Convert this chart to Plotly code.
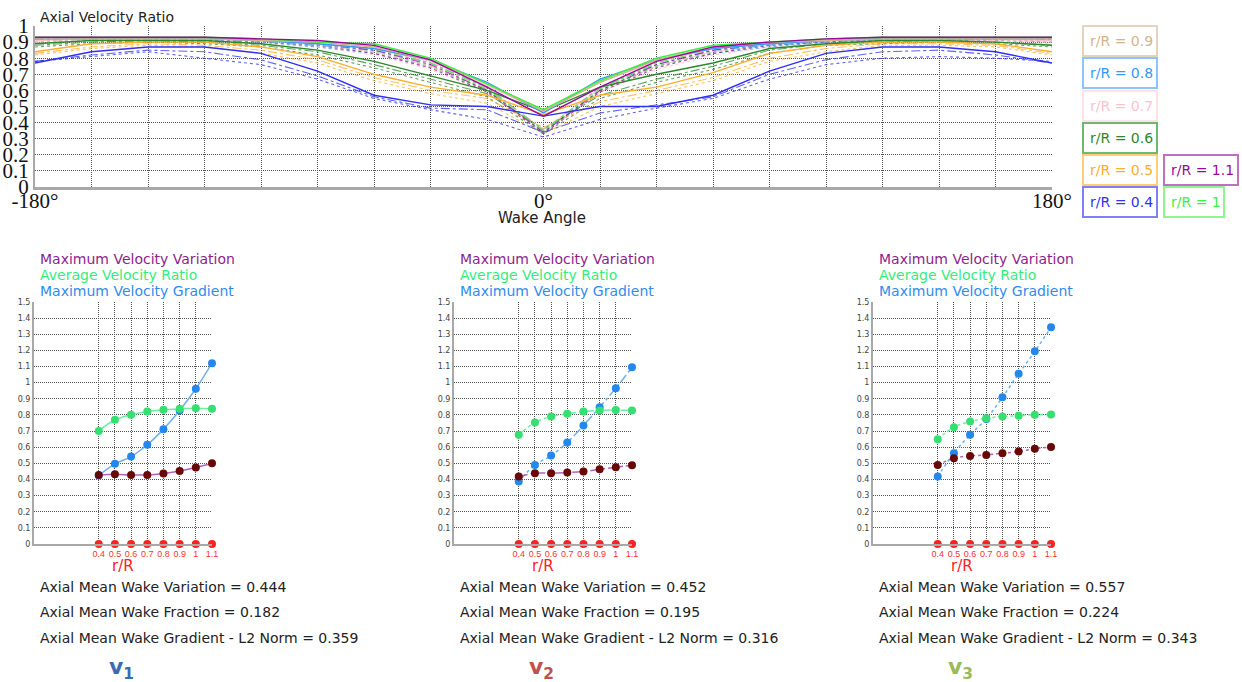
import plotly.graph_objects as go

W, H = 1242, 682

# ---------------- data: top chart (axial velocity ratio vs wake angle) ----------------
angles = [-180, -160, -140, -120, -100, -80, -60, -40, -20, 0, 20, 40, 60, 80, 100, 120, 140, 160, 180]
radii_labels = ["0.4", "0.5", "0.6", "0.7", "0.8", "0.9", "1", "1.1"]

# v1 (solid)
r04_v1 = [0.77, 0.84, 0.87, 0.87, 0.83, 0.72, 0.57, 0.51, 0.50, 0.44, 0.50, 0.50, 0.57, 0.72, 0.83, 0.87, 0.87, 0.84, 0.77]
r05_v1 = [0.84, 0.89, 0.90, 0.90, 0.87, 0.81, 0.70, 0.62, 0.57, 0.45, 0.57, 0.62, 0.71, 0.83, 0.88, 0.90, 0.90, 0.89, 0.84]
r06_v1 = [0.89, 0.91, 0.91, 0.91, 0.89, 0.85, 0.78, 0.69, 0.60, 0.47, 0.62, 0.70, 0.77, 0.86, 0.89, 0.91, 0.91, 0.90, 0.88]
r07_v1 = [0.91, 0.92, 0.92, 0.92, 0.91, 0.89, 0.86, 0.78, 0.63, 0.47, 0.65, 0.78, 0.86, 0.89, 0.91, 0.92, 0.92, 0.92, 0.91]
r08_v1 = [0.92, 0.92, 0.92, 0.92, 0.91, 0.89, 0.86, 0.79, 0.65, 0.46, 0.67, 0.79, 0.86, 0.89, 0.91, 0.92, 0.92, 0.92, 0.92]
r09_v1 = [0.92, 0.92, 0.92, 0.92, 0.91, 0.90, 0.87, 0.79, 0.64, 0.47, 0.65, 0.79, 0.87, 0.90, 0.91, 0.92, 0.92, 0.92, 0.92]
r10_v1 = [0.93, 0.93, 0.93, 0.93, 0.92, 0.90, 0.89, 0.80, 0.64, 0.48, 0.66, 0.80, 0.88, 0.90, 0.92, 0.93, 0.93, 0.93, 0.93]
r11_v1 = [0.93, 0.93, 0.93, 0.93, 0.92, 0.91, 0.88, 0.79, 0.62, 0.44, 0.62, 0.78, 0.87, 0.90, 0.92, 0.93, 0.93, 0.93, 0.93]

# v2 (dash-dot)
r04_v2 = [0.78, 0.82, 0.85, 0.84, 0.79, 0.69, 0.56, 0.49, 0.48, 0.34, 0.46, 0.51, 0.56, 0.70, 0.79, 0.84, 0.85, 0.82, 0.77]
r05_v2 = [0.83, 0.87, 0.89, 0.88, 0.85, 0.79, 0.68, 0.60, 0.55, 0.37, 0.53, 0.60, 0.68, 0.80, 0.86, 0.89, 0.89, 0.88, 0.83]
r06_v2 = [0.88, 0.90, 0.91, 0.90, 0.88, 0.84, 0.76, 0.67, 0.58, 0.36, 0.57, 0.67, 0.75, 0.85, 0.89, 0.90, 0.91, 0.90, 0.88]
r07_v2 = [0.90, 0.91, 0.91, 0.91, 0.90, 0.88, 0.84, 0.75, 0.61, 0.36, 0.61, 0.75, 0.84, 0.88, 0.90, 0.91, 0.91, 0.91, 0.90]
r08_v2 = [0.91, 0.92, 0.92, 0.91, 0.90, 0.88, 0.85, 0.77, 0.62, 0.35, 0.62, 0.76, 0.85, 0.88, 0.90, 0.91, 0.92, 0.92, 0.91]
r09_v2 = [0.91, 0.92, 0.92, 0.92, 0.91, 0.89, 0.86, 0.77, 0.62, 0.35, 0.62, 0.77, 0.86, 0.89, 0.91, 0.92, 0.92, 0.92, 0.91]
r10_v2 = [0.92, 0.92, 0.92, 0.92, 0.91, 0.89, 0.86, 0.77, 0.61, 0.35, 0.61, 0.77, 0.86, 0.89, 0.91, 0.92, 0.92, 0.92, 0.92]
r11_v2 = [0.92, 0.92, 0.92, 0.92, 0.91, 0.89, 0.85, 0.76, 0.60, 0.34, 0.60, 0.76, 0.85, 0.89, 0.91, 0.92, 0.92, 0.92, 0.92]

# v3 (dotted)
r04_v3 = [0.78, 0.81, 0.84, 0.80, 0.76, 0.67, 0.55, 0.48, 0.42, 0.31, 0.42, 0.49, 0.55, 0.67, 0.76, 0.80, 0.81, 0.80, 0.78]
r05_v3 = [0.82, 0.86, 0.88, 0.87, 0.83, 0.77, 0.66, 0.58, 0.52, 0.33, 0.50, 0.58, 0.66, 0.78, 0.84, 0.88, 0.88, 0.87, 0.82]
r06_v3 = [0.87, 0.89, 0.90, 0.89, 0.87, 0.82, 0.74, 0.65, 0.56, 0.33, 0.55, 0.65, 0.73, 0.83, 0.88, 0.89, 0.90, 0.89, 0.87]
r07_v3 = [0.89, 0.90, 0.91, 0.90, 0.89, 0.87, 0.82, 0.73, 0.59, 0.34, 0.59, 0.73, 0.82, 0.87, 0.89, 0.90, 0.91, 0.90, 0.89]
r08_v3 = [0.90, 0.91, 0.91, 0.91, 0.90, 0.87, 0.83, 0.75, 0.60, 0.34, 0.60, 0.75, 0.83, 0.87, 0.90, 0.91, 0.91, 0.91, 0.90]
r09_v3 = [0.90, 0.91, 0.92, 0.91, 0.90, 0.88, 0.84, 0.75, 0.60, 0.34, 0.60, 0.75, 0.84, 0.88, 0.90, 0.91, 0.92, 0.91, 0.90]
r10_v3 = [0.91, 0.92, 0.92, 0.92, 0.90, 0.88, 0.84, 0.75, 0.60, 0.34, 0.60, 0.75, 0.84, 0.88, 0.90, 0.92, 0.92, 0.92, 0.91]
r11_v3 = [0.91, 0.92, 0.92, 0.92, 0.90, 0.88, 0.83, 0.74, 0.59, 0.33, 0.59, 0.74, 0.83, 0.88, 0.90, 0.92, 0.92, 0.92, 0.91]

x_tick_vals = [-180, 0, 180]
x_tick_text = ["-180°", "0°", "180°"]

# ---------------- data: bottom panels (per-radius summaries) ----------------
r_over_R = [0.4, 0.5, 0.6, 0.7, 0.8, 0.9, 1.0, 1.1]
r_tick_text = ["0.4", "0.5", "0.6", "0.7", "0.8", "0.9", "1", "1.1"]
axis_dots = [0, 0, 0, 0, 0, 0, 0, 0]

mvv_v1 = [0.428, 0.432, 0.428, 0.428, 0.437, 0.453, 0.474, 0.501]
avr_v1 = [0.701, 0.770, 0.801, 0.821, 0.832, 0.838, 0.842, 0.838]
mvg_v1 = [0.425, 0.497, 0.542, 0.615, 0.712, 0.828, 0.962, 1.121]

mvv_v2 = [0.418, 0.439, 0.439, 0.443, 0.449, 0.463, 0.476, 0.488]
avr_v2 = [0.677, 0.753, 0.790, 0.807, 0.821, 0.828, 0.830, 0.828]
mvg_v2 = [0.387, 0.490, 0.548, 0.629, 0.735, 0.848, 0.966, 1.095]

mvv_v3 = [0.490, 0.532, 0.546, 0.552, 0.563, 0.573, 0.590, 0.602]
avr_v3 = [0.650, 0.724, 0.759, 0.780, 0.790, 0.795, 0.801, 0.803]
mvg_v3 = [0.418, 0.563, 0.677, 0.775, 0.910, 1.055, 1.194, 1.343]

wake_variation = ["0.444", "0.452", "0.557"]
wake_fraction = ["0.182", "0.195", "0.224"]
wake_gradient = ["0.359", "0.316", "0.343"]
variant_names = ["1", "2", "3"]

# ---------------- styling ----------------
radius_colors = ["#2f2ff5", "#ffad2a", "#2a8a2a", "#ffc2cc", "#3399ff", "#d4b48c", "#3df03d", "#990a99"]
box_colors = ["#8080f5", "#ffcc77", "#6fb86f", "#ffe0e6", "#8cc4ff", "#e6d3bc", "#8ff58f", "#c070c0"]
variant_dash = ["solid", "dashdot", "dot"]
variant_color = ["#3b6bb0", "#c2504d", "#9bbb59"]

SANS = "DejaVu Sans"
SERIF = "Liberation Serif"
GRID = "#555555"


def px(x):
    return x / W


def py(y):
    return 1 - y / H


fig = go.Figure()

series_by_variant = [
    [r04_v1, r05_v1, r06_v1, r07_v1, r08_v1, r09_v1, r10_v1, r11_v1],
    [r04_v2, r05_v2, r06_v2, r07_v2, r08_v2, r09_v2, r10_v2, r11_v2],
    [r04_v3, r05_v3, r06_v3, r07_v3, r08_v3, r09_v3, r10_v3, r11_v3],
]

for vi in [2, 1, 0]:
    for ri, vals in enumerate(series_by_variant[vi]):
        fig.add_trace(go.Scatter(
            x=angles, y=vals, mode="lines", xaxis="x", yaxis="y",
            line=dict(color=radius_colors[ri], width=1.4 if vi == 0 else 1.1, dash=variant_dash[vi]),
            opacity=1.0 if vi == 0 else 0.75, showlegend=False, hoverinfo="skip",
        ))

# bottom panels
panel_left = [34, 454, 873]
panel_right = [212, 632, 1051]
panel_data = [(mvv_v1, avr_v1, mvg_v1), (mvv_v2, avr_v2, mvg_v2), (mvv_v3, avr_v3, mvg_v3)]

for p in range(3):
    xa = "x%d" % (p + 2)
    ya = "y%d" % (p + 2)
    mvv, avr, mvg = panel_data[p]
    dash = variant_dash[p]
    fig.add_trace(go.Scatter(
        x=r_over_R, y=mvg, mode="lines+markers", xaxis=xa, yaxis=ya,
        line=dict(color="#6cb2f0", width=1.5, dash=dash, shape="spline"),
        marker=dict(color="#2288ee", size=8), showlegend=False, cliponaxis=False))
    fig.add_trace(go.Scatter(
        x=r_over_R, y=avr, mode="lines+markers", xaxis=xa, yaxis=ya,
        line=dict(color="#6cf0a2", width=1.5, dash=dash, shape="spline"),
        marker=dict(color="#33e070", size=8), showlegend=False, cliponaxis=False))
    fig.add_trace(go.Scatter(
        x=r_over_R, y=mvv, mode="lines+markers", xaxis=xa, yaxis=ya,
        line=dict(color="#b060c0", width=1.5, dash=dash, shape="spline"),
        marker=dict(color="#6a0808", size=8), showlegend=False, cliponaxis=False))
    fig.add_trace(go.Scatter(
        x=r_over_R, y=axis_dots, mode="markers", xaxis=xa, yaxis=ya,
        marker=dict(color="#ff2020", size=8), showlegend=False, cliponaxis=False))

layout = dict(
    width=W, height=H, margin=dict(l=0, r=0, t=0, b=0, autoexpand=False),
    paper_bgcolor="white", plot_bgcolor="white", showlegend=False,
    xaxis=dict(
        domain=[px(35), px(1052)], range=[-180, 180], tickvals=x_tick_vals, ticktext=x_tick_text,
        showgrid=True, gridcolor=GRID, griddash="1px,1px", gridwidth=1, zeroline=False,
        minor=dict(tick0=-180, dtick=20, showgrid=True, gridcolor=GRID, griddash="1px,1px", gridwidth=1),
        showline=True, linecolor="#a8a8a8", linewidth=3, ticks="", tickangle=0, automargin=False,
        ticklabelstandoff=-7,
        tickfont=dict(family=SERIF, size=21, color="#111"), anchor="y",
    ),
    yaxis=dict(
        domain=[py(187), py(26)], range=[0, 1], dtick=0.1, tick0=0,
        showgrid=True, gridcolor=GRID, griddash="1px,1px", gridwidth=1, zeroline=False,
        showline=True, linecolor="#a8a8a8", linewidth=2, ticks="", automargin=False,
        tickfont=dict(family=SERIF, size=21, color="#111"), anchor="x",
    ),
)

for p in range(3):
    n = p + 2
    layout["xaxis%d" % n] = dict(
        domain=[px(panel_left[p]), px(panel_right[p])], range=[0, 1.1],
        tickvals=r_over_R, ticktext=r_tick_text, tickangle=0, automargin=False,
        showgrid=True, gridcolor=GRID, griddash="1px,1px", gridwidth=1, zeroline=False,
        showline=True, linecolor="#a8a8a8", linewidth=2, ticks="",
        tickfont=dict(family="Liberation Sans", size=9, color="#ff3030"), anchor="y%d" % n,
    )
    layout["yaxis%d" % n] = dict(
        domain=[py(544), py(302)], range=[0, 1.5], dtick=0.1, tick0=0, automargin=False,
        showgrid=True, gridcolor=GRID, griddash="1px,1px", gridwidth=1, zeroline=False,
        showline=True, linecolor="#a8a8a8", linewidth=2, ticks="",
        tickfont=dict(family=SANS, size=8, color="#444"), anchor="x%d" % n,
    )

fig.update_layout(**layout)

annotations = []
shapes = []


def add_text(x, y, text, size=14, color="#222", xanchor="left", family=SANS):
    annotations.append(dict(
        xref="paper", yref="paper", x=px(x), y=py(y), text=text, showarrow=False,
        xanchor=xanchor, yanchor="middle", font=dict(family=family, size=size, color=color)))


add_text(38, 17, "Axial Velocity Ratio", size=14)
add_text(542, 218, "Wake Angle", size=15, xanchor="center")

# legend boxes for the top chart
legend_pos = {
    "0.9": (1083, 1157, 41), "0.8": (1083, 1157, 73), "0.7": (1083, 1157, 106),
    "0.6": (1083, 1157, 138), "0.5": (1083, 1157, 170), "0.4": (1083, 1157, 202),
    "1.1": (1164, 1238, 170), "1": (1164, 1224, 202),
}
for ri, lab in enumerate(radii_labels):
    x0, x1, yc = legend_pos[lab]
    shapes.append(dict(type="rect", xref="paper", yref="paper",
                       x0=px(x0), x1=px(x1), y0=py(yc + 15), y1=py(yc - 15),
                       line=dict(color=box_colors[ri], width=2), fillcolor="white"))
    add_text(x0 + 5, yc, "r/R = " + lab, size=14, color=radius_colors[ri])

# bottom panel texts
for p in range(3):
    off = panel_left[p]
    cx = (panel_left[p] + panel_right[p]) / 2
    add_text(off + 4, 259, "Maximum Velocity Variation", size=14, color="#8e1e8e")
    add_text(off + 4, 275, "Average Velocity Ratio", size=14, color="#33ee7a")
    add_text(off + 4, 291, "Maximum Velocity Gradient", size=14, color="#2f8cf0")
    add_text(cx, 566, "r/R", size=15, color="#ff2020", xanchor="center")
    add_text(off + 4, 587, "Axial Mean Wake Variation = " + wake_variation[p], size=14)
    add_text(off + 4, 612, "Axial Mean Wake Fraction = " + wake_fraction[p], size=14)
    add_text(off + 4, 638, "Axial Mean Wake Gradient - L2 Norm = " + wake_gradient[p], size=14)
    add_text(cx - 2, 668, "<b>v<sub>" + variant_names[p] + "</sub></b>", size=22,
             color=variant_color[p], xanchor="center")

fig.update_layout(annotations=annotations, shapes=shapes)

fig.write_html(
    "out.html",
    config={"displayModeBar": False},
    post_script="document.body.style.margin='0';document.body.style.overflow='hidden';",
)
